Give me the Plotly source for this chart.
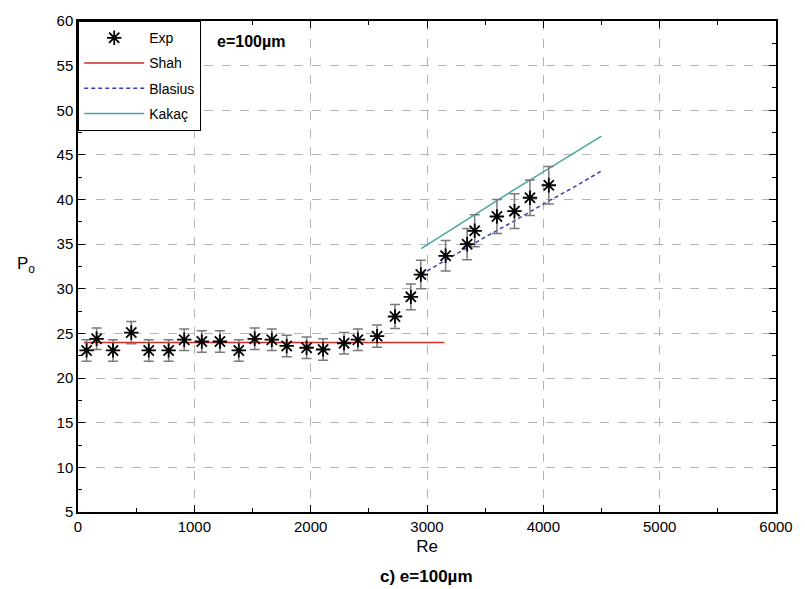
import plotly.graph_objects as go

re_exp = [74, 160, 301, 458, 608, 779, 913, 1064, 1220, 1382, 1519, 1666, 1794, 1965,
          2107, 2287, 2406, 2571, 2725, 2861, 2947, 3160, 3345, 3410, 3601, 3752, 3885, 4047]
po_exp = [23.1, 24.4, 23.1, 25.1, 23.1, 23.1, 24.3, 24.1, 24.1, 23.1, 24.4, 24.3, 23.6, 23.4,
          23.2, 23.9, 24.3, 24.7, 26.9, 29.1, 31.6, 33.7, 35.0, 36.5, 38.1, 38.7, 40.2, 41.6]
err_exp = [1.2, 1.2, 1.2, 1.25, 1.2, 1.2, 1.2, 1.2, 1.2, 1.2, 1.2, 1.2, 1.2, 1.2,
           1.2, 1.2, 1.2, 1.25, 1.35, 1.45, 1.6, 1.7, 1.75, 1.8, 1.9, 1.95, 2.0, 2.1]

# Shah (laminar)
re_shah = [50, 3150]
po_shah = [24.0, 24.0]

# Blasius and Kakaç (turbulent)
re_turb = [2950, 3250, 3500, 3750, 4000, 4250, 4500]
po_blasius = [31.6, 33.9, 35.8, 37.6, 39.5, 41.3, 43.2]
po_kakac = [34.5, 37.0, 39.1, 41.1, 43.1, 45.1, 47.1]

x_ticks = [0, 1000, 2000, 3000, 4000, 5000, 6000]
y_ticks = [5, 10, 15, 20, 25, 30, 35, 40, 45, 50, 55, 60]

FONT = "Liberation Sans, Arial, sans-serif"

fig = go.Figure()
fig.add_trace(go.Scatter(x=re_shah, y=po_shah, mode="lines", name="Shah",
                         line=dict(color="#d42a2a", width=1.5),
                         legendrank=2, legendgroup="b"))
fig.add_trace(go.Scatter(x=re_turb, y=po_blasius, mode="lines", name="Blasius",
                         line=dict(color="#3c3cb4", width=1.5, dash="4px,3px"),
                         legendrank=3, legendgroup="c"))
fig.add_trace(go.Scatter(x=re_turb, y=po_kakac, mode="lines", name="Kakaç",
                         line=dict(color="#4aa5a5", width=1.5),
                         legendrank=4, legendgroup="d"))
fig.add_trace(go.Scatter(x=re_exp, y=po_exp, mode="markers", name="Exp",
                         marker=dict(symbol="asterisk-open", size=12, color="black",
                                     line=dict(color="black", width=1.8)),
                         error_y=dict(type="data", array=err_exp, visible=True,
                                      color="#7a7a7a", thickness=1.5, width=5),
                         legendrank=1, legendgroup="a"))

axis_common = dict(
    showline=True, linecolor="black", linewidth=1.5, mirror="ticks",
    ticks="inside", ticklen=7, tickcolor="black", tickwidth=1.2,
    showgrid=True, gridcolor="#b4b4b4", griddash="dash", gridwidth=1,
    zeroline=False, tickfont=dict(family=FONT, size=15, color="black"),
)

fig.update_xaxes(range=[0, 6000], tickvals=x_ticks,
                 minor=dict(ticks="inside", dtick=500, ticklen=4, tickcolor="black", showgrid=False),
                 title=dict(text="Re", font=dict(family=FONT, size=17, color="black"), standoff=6),
                 **axis_common)
fig.update_yaxes(range=[5, 60], tickvals=y_ticks,
                 minor=dict(ticks="inside", dtick=2.5, ticklen=4, tickcolor="black", showgrid=False),
                 **axis_common)

# plot area in pixels: x 78..783, y 19..512
W, H = 805, 589
L, R, T, B = 78, 783, 19, 512
pw, ph = R - L, B - T


def px(xp):
    return (xp - L) / pw


def py(yp):
    return 1 - (yp - T) / ph


fig.update_layout(
    width=W, height=H,
    margin=dict(l=L, r=W - R, t=T, b=H - B),
    paper_bgcolor="white", plot_bgcolor="white",
    font=dict(family=FONT, size=13, color="black"),
    legend=dict(x=0, y=1, xanchor="left", yanchor="top",
                bordercolor="black", borderwidth=1.2, bgcolor="white",
                traceorder="grouped", tracegroupgap=4, itemwidth=60,
                font=dict(family=FONT, size=14, color="black")),
    annotations=[
        dict(text="<b>e=100µm</b>", x=px(216), y=py(40), xref="paper", yref="paper",
             showarrow=False, font=dict(family=FONT, size=16, color="black"),
             xanchor="left", yanchor="middle"),
        dict(text="P<sub>o</sub>", x=px(25), y=py(264), xref="paper", yref="paper",
             showarrow=False, font=dict(family=FONT, size=17, color="black"),
             xanchor="center", yanchor="middle"),
        dict(text="<b>c) e=100µm</b>", x=px(430), y=py(577), xref="paper", yref="paper",
             showarrow=False, font=dict(family=FONT, size=17, color="black"),
             xanchor="center", yanchor="middle"),
    ],
)

fig.write_html("out.html", config={"displayModeBar": False},
               post_script="document.body.style.margin='0';")
